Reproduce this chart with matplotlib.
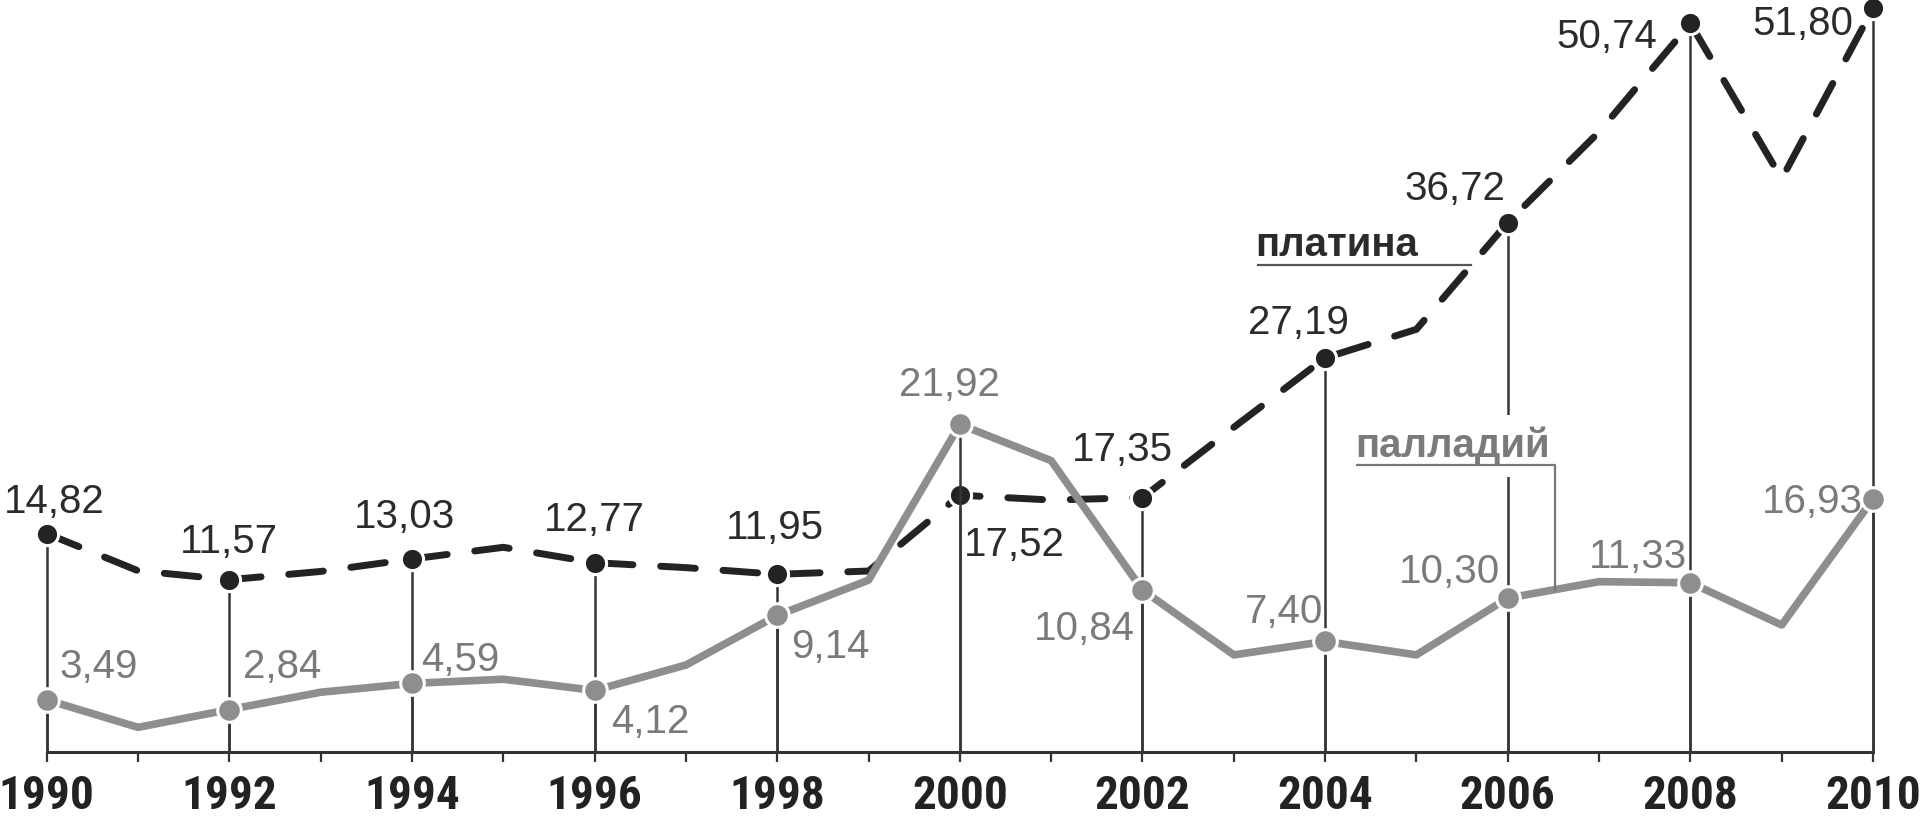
import matplotlib.pyplot as plt
import numpy as np

# данные (годовые значения), подписи только у чётных лет
years = np.arange(1990, 2011)
platinum = [14.82, 12.2, 11.57, 12.15, 13.03, 13.85, 12.77, 12.42, 11.95, 12.18,
            17.52, 17.18, 17.35, 22.3, 27.19, 29.2, 36.72, 43.1, 50.74, 39.8, 51.80]
palladium = [3.49, 1.65, 2.84, 4.0, 4.59, 4.87, 4.12, 5.82, 9.14, 11.5,
             21.92, 19.5, 10.84, 6.5, 7.40, 6.5, 10.30, 11.4, 11.33, 8.5, 16.93]
label_years = years[::2]
plat_even = platinum[::2]
pall_even = palladium[::2]

# смещения подписей (пиксели)
plat_off = [(8, 35), (0, 41), (-7, 45), (0, 46), (-2, 50), (54, -46),
            (-20, 51), (-27, 38), (-53, 37), (-84, -10), (-70, -12)]
pall_off = [(52, 36), (53, 46), (48, 27), (56, -28), (53, -28), (-10, 43),
            (-58, -35), (-41, 33), (-58, 30), (-52, 29), (-61, 1)]

c_plat = '#232323'
c_pall = '#8e8e8e'
c_vline = '#363636'
year_font = ['Liberation Sans Narrow', 'DejaVu Sans Condensed', 'Roboto Condensed',
             'Liberation Sans']

fig = plt.figure(figsize=(19.2, 8.22), dpi=100)
ax = fig.add_axes([0.02432, 0.08516, 0.9512, 0.91484])
ax.set_xlim(1990, 2010)
ax.set_ylim(-0.563, 52.39)
ax2 = ax.twinx()
ax2.set_ylim(0, 50.33)

for s in ['top', 'left', 'right']:
    ax.spines[s].set_visible(False)
ax.spines['bottom'].set_linewidth(2.2)
ax.spines['bottom'].set_color('#333333')
for s in ax2.spines.values():
    s.set_visible(False)
ax.set_yticks([])
ax2.set_yticks([])

ax.set_xticks(label_years)
ax.set_xticks(years[1::2], minor=True)
ax.set_xticklabels([str(y) for y in label_years], fontsize=34, fontweight='bold',
                   family=year_font, fontstretch='condensed', color='#222222')
ax.tick_params(axis='x', which='both', direction='out', length=7.2, width=1.6,
               color='#333333', pad=9)

# вертикальные линии
ax.vlines(label_years, ax.get_ylim()[0], plat_even, colors=c_vline, lw=1.8,
          zorder=1, clip_on=False)
ax2.vlines(label_years, 0, pall_even, colors=c_vline, lw=1.8, zorder=1, clip_on=False)

# платина
ax.plot(years, platinum, color=c_plat, lw=5, dashes=(5, 4), dash_capstyle='round',
        zorder=3, clip_on=False)
ax.plot(label_years, plat_even, 'o', ms=16, mfc=c_plat, mec='white', mew=2.2,
        zorder=4, clip_on=False)
for yr, v, (dx, dy) in zip(label_years, plat_even, plat_off):
    ax.annotate(f'{v:.2f}'.replace('.', ','), (yr, v), xytext=(dx, dy - 14.5),
                textcoords='offset pixels', ha='center', va='baseline', fontsize=29,
                color='#2b2b2b', family='Liberation Sans', annotation_clip=False, zorder=6)

# палладий
ax2.plot(years, palladium, color=c_pall, lw=5.5, zorder=3, clip_on=False)
ax2.plot(label_years, pall_even, 'o', ms=17, mfc=c_pall, mec='white', mew=2.2,
         zorder=4, clip_on=False)
for yr, v, (dx, dy) in zip(label_years, pall_even, pall_off):
    ax2.annotate(f'{v:.2f}'.replace('.', ','), (yr, v), xytext=(dx, dy - 14.5),
                 textcoords='offset pixels', ha='center', va='baseline', fontsize=29,
                 color='#7a7a7a', family='Liberation Sans', annotation_clip=False, zorder=6)

# подпись "платина" с выноской
px = 2005.6
py = np.interp(px, years, platinum)
ax.plot([2003.26, px], [py, py], color='#555555', lw=1.6, zorder=2)
ax.annotate('платина', (2003.24, py), xytext=(0, 9), textcoords='offset pixels',
            ha='left', va='baseline', fontsize=29, fontweight='bold', color='#2b2b2b',
            family='Liberation Sans', zorder=6)

# подпись "палладий" с выноской
lx = 2006.52
ly = np.interp(lx, years, palladium)
ax2.annotate('палладий', (2004.33, 19.2), xytext=(0, 8), textcoords='offset pixels',
             ha='left', va='baseline', fontsize=29, fontweight='bold', color='#7a7a7a',
             family='Liberation Sans', zorder=5,
             bbox=dict(boxstyle='square,pad=0.3', fc='white', ec='none'))
ax2.plot([2004.35, lx, lx], [19.2, 19.2, ly], color='#777777', lw=1.6, zorder=6)

fig.savefig('out.png', dpi=100)
